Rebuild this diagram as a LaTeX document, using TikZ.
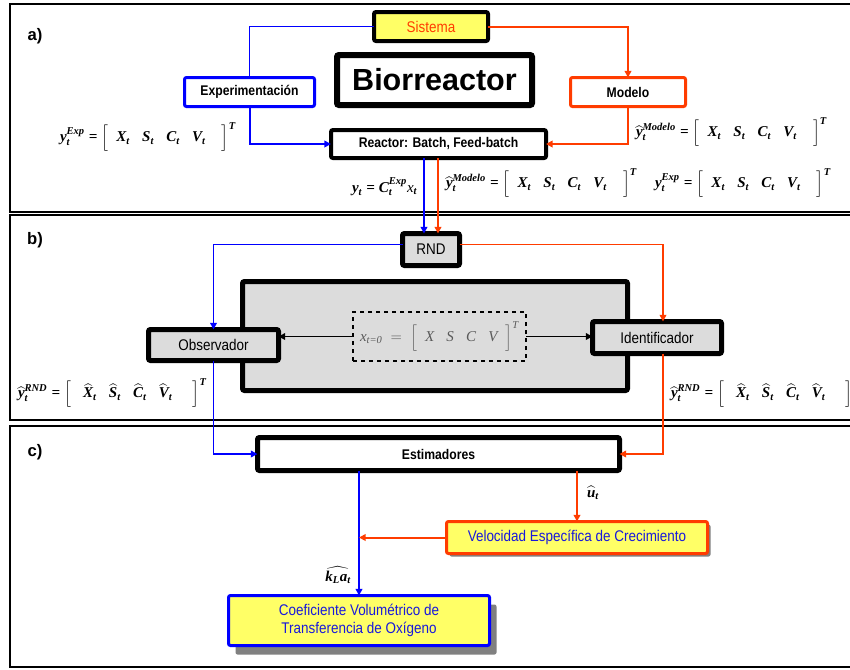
\documentclass[tikz,border=0pt]{standalone}
\usepackage{amsmath}
\usepackage{fontspec}
\setmainfont{Liberation Sans}[FakeStretch=0.87]
\newfontfamily\plainsans{Liberation Sans}
\newfontfamily\tnr{Liberation Serif}
\usetikzlibrary{arrows.meta,calc,shadows}
\definecolor{blueline}{RGB}{0,0,255}
\definecolor{redline}{RGB}{255,60,0}
\definecolor{boxyellow}{RGB}{255,255,102}
\definecolor{boxgray}{RGB}{220,220,220}
\definecolor{labelblue}{RGB}{25,25,220}
\definecolor{shade}{RGB}{128,128,128}
\definecolor{inktext}{RGB}{90,90,90}
% bold-italic and italic serif letters for the formulas
\newcommand\bi[1]{\text{\tnr\bfseries\itshape #1}}
\newcommand\ri[1]{\text{\tnr\itshape #1}}
\begin{document}
\begin{tikzpicture}[x=0.75pt,y=-0.75pt,
  every node/.style={inner sep=0pt, outer sep=0pt},
  panel/.style={draw=black, line width=1.5pt},
  tag/.style={font=\plainsans\bfseries\fontsize{12.5}{14}\selectfont},
  blk/.style={draw=black, rounded corners=1.5pt, align=center},
  lbl/.style={font=\fontsize{10.5}{12}\selectfont\bfseries},
  rlbl/.style={font=\fontsize{11.6}{14}\selectfont},
  eq/.style={font=\fontsize{11.25}{13}\selectfont},
  bluewire/.style={draw=blueline, line width=1.5pt},
  redwire/.style={draw=redline, line width=1.5pt},
  tip/.style={-{Triangle[length=5pt,width=5pt]}},
]
\useasboundingbox (0,0) rectangle (850,669);

% panels
\draw[panel] (10,4) rectangle (853,212);
\draw[panel] (10,215) rectangle (853,420);
\draw[panel] (10,426) rectangle (853,667);
\node[tag] (ta) at (35,36) {a)};
\node[tag] (tb) at (35,240) {b)};
\node[tag] (tc) at (35,452) {c)};

% ---- a) ----
\node[blk, fill=boxyellow, line width=3pt, minimum width=85.5pt, minimum height=21.75pt,
      rlbl, text=redline] (sis) at (431,26.5) {Sistema};
\node[blk, fill=white, line width=4.5pt, minimum width=146.25pt, minimum height=37.5pt,
      font=\plainsans\bfseries\fontsize{22.9}{26}\selectfont] (bio) at (434.5,80) {Biorreactor};
\node[blk, draw=blueline, fill=white, line width=2.25pt, minimum width=97.5pt, minimum height=21.75pt,
      lbl] (exp) at (249.5,92) {Experimentación};
\node[blk, draw=redline, fill=white, line width=2.25pt, minimum width=86.25pt, minimum height=21.75pt,
      lbl] (mod) at (628,92) {Modelo};
\node[blk, fill=white, line width=3pt, minimum width=161.25pt, minimum height=21pt,
      lbl] (rea) at (438.5,144) {Reactor: Batch, Feed-batch};

\draw[bluewire, line width=1.2pt] (sis.west) -| (exp.north);
\draw[bluewire, tip] (exp.south) |- (rea.west);
\draw[redwire, tip] (sis.east) -| (mod.north);
\draw[redwire, tip] (mod.south) |- (rea.east);

\node[eq, anchor=west] (e1) at (60,137)
 {$\bi{y}_{\bi t}^{\bi{Exp}}\;\bi{=}\;\Big[\;\;\bi X_{\bi t}\;\;\;\bi S_{\bi t}\;\;\;\bi C_{\bi t}\;\;\;\bi V_{\bi t}\;\;\;\;\Big]^{\bi T}$};
\node[eq, anchor=west] (e2) at (636,132)
 {$\widehat{\bi y}_{\bi t}^{\bi{Modelo}}\;\bi{=}\;\Big[\;\;\bi X_{\bi t}\;\;\;\bi S_{\bi t}\;\;\;\bi C_{\bi t}\;\;\;\bi V_{\bi t}\;\;\;\;\Big]^{\bi T}$};
\node[eq, anchor=west] (e3) at (352,187)
 {$\bi{y}_{\bi t}\;\bi{=}\;\bi C_{\bi t}^{\bi{Exp}}\ri{x}_{\bi t}$};
\node[eq, anchor=west] (e4) at (446,183)
 {$\widehat{\bi y}_{\bi t}^{\bi{Modelo}}\;\bi{=}\;\Big[\;\;\bi X_{\bi t}\;\;\;\bi S_{\bi t}\;\;\;\bi C_{\bi t}\;\;\;\bi V_{\bi t}\;\;\;\;\Big]^{\bi T}$};
\node[eq, anchor=west] (e5) at (655,183)
 {$\bi{y}_{\bi t}^{\bi{Exp}}\;\bi{=}\;\Big[\;\;\bi X_{\bi t}\;\;\;\bi S_{\bi t}\;\;\;\bi C_{\bi t}\;\;\;\bi V_{\bi t}\;\;\;\;\Big]^{\bi T}$};

% ---- b) ----
\node[blk, fill=boxgray, line width=3.75pt, minimum width=42.75pt, minimum height=24pt,
      rlbl] (rnd) at (431,249.5) {RND};
\node[blk, fill=boxgray, line width=3.75pt, minimum width=288.75pt, minimum height=81.75pt] (big) at (435,336) {};
\node[draw=black, dashed, line width=1.1pt, minimum width=129.75pt, minimum height=36.75pt,
      eq, text=inktext] (dsh) at (439.5,336.5)
 {$\ri{x}_{\ri{t=0}}\;=\;\Big[\;\;\ri X\;\;\;\ri S\;\;\;\ri C\;\;\;\ri V\;\;\Big]^{\ri T}$};
\node[blk, fill=boxgray, line width=3.75pt, minimum width=97.5pt, minimum height=23.25pt,
      rlbl] (obs) at (213.5,345) {Observador};
\node[blk, fill=boxgray, line width=3.75pt, minimum width=96.75pt, minimum height=24pt,
      rlbl] (idf) at (657,337.5) {Identificador};

\coordinate (inB) at ($(rnd.north)+(-7,0)$);
\coordinate (inR) at ($(rnd.north)+(7,0)$);
\draw[bluewire, tip] (inB |- rea.south) -- (inB);
\draw[redwire, tip] (inR |- rea.south) -- (inR);

\coordinate (rndW) at ($(rnd.west)+(0,-5)$);
\coordinate (rndE) at ($(rnd.east)+(0,-5)$);
\coordinate (idfN) at ($(idf.north)+(6,0)$);
\coordinate (idfS) at ($(idf.south)+(6,0)$);
\draw[bluewire, line width=1.1pt, tip] (rndW) -| (obs.north);
\draw[redwire, line width=1.1pt, tip] (rndE) -| (idfN);
\draw[line width=1.1pt, tip] (dsh.west) -- (dsh.west -| obs.east);
\draw[line width=1.1pt, tip] (dsh.east) -- (dsh.east -| idf.west);

\node[eq, anchor=west] (e6) at (18,393)
 {$\widehat{\bi y}_{\bi t}^{\bi{RND}}\;\bi{=}\;\Big[\;\;\;\widehat{\bi X}_{\bi t}\;\;\;\widehat{\bi S}_{\bi t}\;\;\;\widehat{\bi C}_{\bi t}\;\;\;\widehat{\bi V}_{\bi t}\;\;\;\;\;\Big]^{\bi T}$};
\node[eq, anchor=west] (e7) at (671,393)
 {$\widehat{\bi y}_{\bi t}^{\bi{RND}}\;\bi{=}\;\Big[\;\;\;\widehat{\bi X}_{\bi t}\;\;\;\widehat{\bi S}_{\bi t}\;\;\;\widehat{\bi C}_{\bi t}\;\;\;\widehat{\bi V}_{\bi t}\;\;\;\;\;\Big]^{\bi T}$};

% ---- c) ----
\node[blk, fill=white, line width=3.75pt, minimum width=271.5pt, minimum height=24.75pt,
      lbl] (est) at (438.5,454) {Estimadores};
\node[blk, draw=redline, fill=boxyellow, line width=2.25pt, minimum width=195.75pt, minimum height=24pt,
      rlbl, text=labelblue,
      general shadow={fill=shade, shadow xshift=2.25pt, shadow yshift=-2.25pt}] (vel) at (577,537.5)
 {Velocidad Específica de Crecimiento};
\node[blk, draw=blueline, fill=boxyellow, line width=2.25pt, minimum width=195.75pt, minimum height=37.5pt,
      rlbl, text=labelblue,
      general shadow={fill=shade, shadow xshift=5.25pt, shadow yshift=-6.75pt}] (coe) at (359,620.5)
 {Coeficiente Volumétrico de\\Transferencia de Oxígeno};

\draw[bluewire, line width=1.1pt, tip] (obs.south) |- (est.west);
\draw[redwire, line width=1.1pt, tip] (idfS) |- (est.east);
\draw[bluewire, tip] (coe.north |- est.south) -- (coe.north);
\draw[redwire, tip] (vel.north |- est.south) -- (vel.north);
\draw[redwire, tip] (vel.west) -- (vel.west -| coe.north);

\node[eq, anchor=west] (ut) at (587,493) {$\widehat{\bi u}_{\bi t}$};
\node[eq, anchor=east] (kla) at (351,575) {$\widehat{\bi k_{\bi L}\bi a_{\bi t}}$};
\end{tikzpicture}
\end{document}
